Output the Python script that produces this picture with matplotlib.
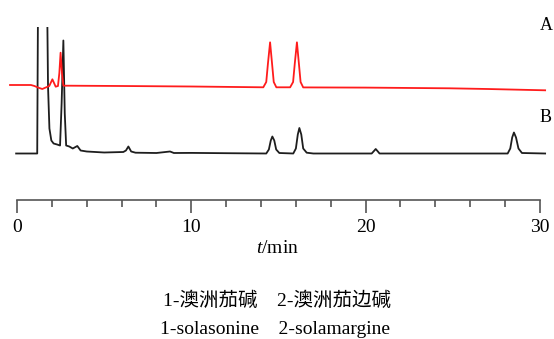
import matplotlib
matplotlib.use('Agg')
import matplotlib.pyplot as plt
from matplotlib.ticker import MultipleLocator

## chromatogram traces (t in min, signal in arbitrary units)
# B - sample (black)
t_b = [-0.05, 1.16, 1.22, 1.70, 1.78, 1.86, 1.97, 2.10, 2.30, 2.47,
       2.56, 2.66, 2.74, 2.82, 3.0, 3.2, 3.46, 3.65, 4.0, 5.0,
       6.1, 6.25, 6.39, 6.55, 6.8, 8.0, 8.78, 9.0, 10.0, 12.0,
       14.3, 14.45, 14.56, 14.65, 14.76, 14.87, 15.05, 15.85, 16.0, 16.11,
       16.2, 16.31, 16.42, 16.62, 17.0, 20.35, 20.48, 20.58, 20.68, 20.8,
       28.15, 28.3, 28.41, 28.51, 28.63, 28.77, 28.97, 30.3]
sig_b = [0, 0, 200, 200, 67, 25, 13, 10, 9, 8,
         50, 113, 40, 8, 7, 5, 7.5, 3, 2, 1,
         1.5, 3, 7, 2, 0.8, 0.5, 2, 0.5, 0.6, 0.3,
         0, 4, 13, 17, 13, 4, 0.5, 0, 5, 19,
         25.5, 19, 5, 0.8, 0, 0, 2.5, 4.5, 2.5, 0,
         0, 5, 16, 21, 16, 5, 0.5, 0]

# A - reference standard (red)
t_a = [-0.4, 0.8, 1.0, 1.2, 1.45, 1.65, 1.85, 2.03, 2.15, 2.22,
       2.35, 2.43, 2.50, 2.58, 2.66, 3.0, 6.0, 10.0, 14.13, 14.3,
       14.4, 14.52, 14.63, 14.73, 14.88, 15.67, 15.84, 15.94, 16.06, 16.17,
       16.27, 16.42, 20.0, 24.8, 27.0, 30.3]
sig_a = [0, 0, -1, -2.5, -4, -2.5, -1, 5.7, 1, -1.7,
         -1, 12, 32.3, 12, -0.7, -0.7, -1, -1.5, -2.3, 3,
         22, 42.7, 22, 3, -2.3, -2.3, 3, 22, 42.7, 22,
         3, -2.4, -2.6, -3.3, -4, -5.3]

offset_a = 68.5
trace_labels = ['A', 'B']
xticks_major = [0, 10, 20, 30]
note_cn = '1-澳洲茄碱\u30002-澳洲茄边碱'
note_en = '1-solasonine    2-solamargine'

plt.rcParams['font.family'] = ['Liberation Serif', 'Noto Sans CJK SC']
plt.rcParams['mathtext.fontset'] = 'custom'
plt.rcParams['mathtext.rm'] = 'Liberation Serif'
plt.rcParams['mathtext.it'] = 'Liberation Serif:italic'

fig = plt.figure(figsize=(5.54, 3.39), dpi=100)
W, H = 554, 339
# axes in pixel terms: left 5, right 550, top 27, bottom 200
ax = fig.add_axes([5 / W, 1 - 200 / H, 545 / W, 173 / H])

ax.plot(t_b, sig_b, color='#1e1e1e', lw=1.3)
ax.plot(t_a, [s + offset_a for s in sig_a], color='#ff1c1c', lw=1.3)

px = 17.43  # pixels per minute
ax.set_xlim(-12 / px, 533 / px)
ax.set_ylim(-46.5, 126.5)

for s in ['top', 'right', 'left']:
    ax.spines[s].set_visible(False)
ax.spines['bottom'].set_bounds(0, 30)
ax.spines['bottom'].set_color('#555555')
ax.spines['bottom'].set_linewidth(1.2)
ax.set_yticks([])
ax.set_xticks(xticks_major)
ax.xaxis.set_minor_locator(MultipleLocator(2))
ax.tick_params(axis='x', which='major', length=9.4, width=1.2, color='#555555',
               labelsize=14, pad=4)
ax.tick_params(axis='x', which='minor', length=5, width=1.2, color='#555555')
ax.set_xlabel('$t$/min', fontsize=14, labelpad=3.5)

## trace labels
fig.text(546 / W, 1 - 25 / H, trace_labels[0], fontsize=13, ha='center', va='center')
fig.text(546 / W, 1 - 117 / H, trace_labels[1], fontsize=13, ha='center', va='center')

## compound notes under the axis
fig.text(277 / W, 1 - 301 / H, note_cn, fontsize=14, ha='center', va='center')
fig.text(275 / W, 1 - 329 / H, note_en, fontsize=14, ha='center', va='center')

plt.savefig('out.png', dpi=100)
